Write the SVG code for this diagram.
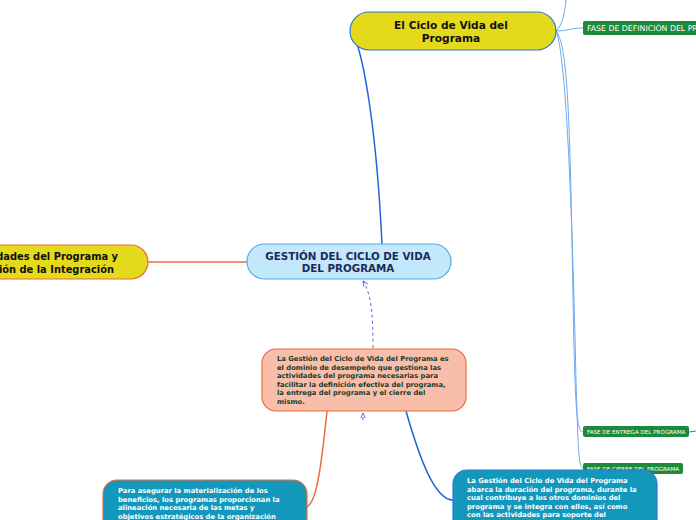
<svg xmlns="http://www.w3.org/2000/svg" width="696" height="520" viewBox="0 0 696 520">
<defs>
<style>
.t{font-family:"DejaVu Sans",Verdana,sans-serif;font-weight:bold}
.yel{fill:#e5d91c}
.teal{fill:#1398bc}
.tag{fill:#1d8a3b}
.tagt{font-family:"DejaVu Sans",Verdana,sans-serif;fill:#ffffff}
.lb{fill:none;stroke:#6fa8ee;stroke-width:1}
.wt{fill:#ffffff;font-size:6.8px}
</style>
<marker id="ah" viewBox="0 0 10 10" refX="9" refY="5" markerWidth="6" markerHeight="6" orient="auto-start-reverse">
<path d="M0,1 L9,5 L0,9" fill="none" stroke="#4a6be8" stroke-width="1.5"/>
</marker>
</defs>
<rect width="696" height="520" fill="#ffffff"/>
<g id="connectors">
<path d="M357,44 C363,62 376,120 382,244" fill="none" stroke="#1f64d6" stroke-width="1.5"/>
<path d="M148,262 L247,262" stroke="#ee6a3e" stroke-width="1.5"/>
<path d="M327,411 C321,470 316,505 306,507" fill="none" stroke="#ee6a3e" stroke-width="1.5"/>
<path d="M406,411 C420,460 435,500 453,500" fill="none" stroke="#1f64d6" stroke-width="1.5"/>
<path d="M373,348 C373,318 372,295 363,281" fill="none" stroke="#4a6be8" stroke-width="1" stroke-dasharray="3,3" marker-end="url(#ah)"/>
<path d="M363,420 L363,413" fill="none" stroke="#4a6be8" stroke-width="1" stroke-dasharray="3,3" marker-end="url(#ah)"/>
<path class="lb" d="M556,31 C563,25 565,10 566,0"/>
<path class="lb" d="M556,31 C568,31 570,28 583,28"/>
<path class="lb" d="M556,31 C568,45 570,120 573,300 C575,400 576,432 583,432"/>
<path class="lb" d="M556,31 C566,55 572,200 576,380 C578,440 578,468 583,468"/>
<path d="M689,432 L696,431" stroke="#2f78d6" stroke-width="1"/>
</g>
<g id="n-ciclo">
<rect x="350" y="12" width="206" height="38" rx="19" class="yel" stroke="#2f78d6" stroke-width="1.2"/>
<text class="t" x="451" y="29" font-size="10.6" text-anchor="middle" fill="#111">El Ciclo de Vida del</text>
<text class="t" x="451" y="42" font-size="10.6" text-anchor="middle" fill="#111">Programa</text>
</g>
<g id="n-def">
<rect x="583" y="21" width="130" height="14" rx="2" class="tag"/>
<text class="tagt" x="587" y="31" font-size="7.8">FASE DE DEFINICIÓN DEL PROGRAMA</text>
</g>
<g id="n-left">
<rect x="-60" y="245" width="208" height="34" rx="17" class="yel" stroke="#ee6a3e" stroke-width="1.2"/>
<text class="t" x="118" y="259.5" font-size="9.9" text-anchor="end" fill="#111">Actividades del Programa y</text>
<text class="t" x="114" y="272.5" font-size="9.9" text-anchor="end" fill="#111">Gestión de la Integración</text>
</g>
<g id="n-central">
<rect x="247" y="244" width="204" height="35" rx="17.5" fill="#c4e8fb" stroke="#5aa7e6" stroke-width="1.2"/>
<text class="t" x="348" y="260" font-size="10.3" text-anchor="middle" fill="#1a2a5a">GESTIÓN DEL CICLO DE VIDA</text>
<text class="t" x="348" y="272" font-size="10.3" text-anchor="middle" fill="#1a2a5a">DEL PROGRAMA</text>
</g>
<g id="n-desc">
<rect x="262" y="349" width="204" height="62" rx="14" fill="#f8bea9" stroke="#ee6a3e" stroke-width="1.2"/>
<g class="t" font-size="6.8" fill="#1b3a2a">
<text x="277" y="361">La Gestión del Ciclo de Vida del Programa es</text>
<text x="277" y="369.6">el dominio de desempeño que gestiona las</text>
<text x="277" y="378.2">actividades del programa necesarias para</text>
<text x="277" y="386.8">facilitar la definición efectiva del programa,</text>
<text x="277" y="395.4">la entrega del programa y el cierre del</text>
<text x="277" y="404">mismo.</text>
</g>
</g>
<g id="n-entrega">
<rect x="583" y="426" width="106" height="11" rx="2" class="tag"/>
<text class="tagt" x="587" y="434" font-size="5.6">FASE DE ENTREGA DEL PROGRAMA</text>
</g>
<g id="n-cierre">
<rect x="583" y="463" width="100" height="11" rx="2" class="tag"/>
<text class="tagt" x="587" y="471" font-size="5.6">FASE DE CIERRE DEL PROGRAMA</text>
</g>
<g id="n-bl">
<rect x="103" y="480" width="204" height="60" rx="14" class="teal" stroke="#ee6a3e" stroke-width="1.2"/>
<g class="t wt">
<text x="118" y="493">Para asegurar la materialización de los</text>
<text x="118" y="501.6">beneficios, los programas proporcionan la</text>
<text x="118" y="510.2">alineación necesaria de las metas y</text>
<text x="118" y="518.8">objetivos estratégicos de la organización</text>
</g>
</g>
<g id="n-br">
<rect x="453" y="470" width="204" height="70" rx="14" class="teal" stroke="#2f78d6" stroke-width="1.2"/>
<g class="t wt">
<text x="467" y="483">La Gestión del Ciclo de Vida del Programa</text>
<text x="467" y="491.6">abarca la duración del programa, durante la</text>
<text x="467" y="500.2">cual contribuye a los otros dominios del</text>
<text x="467" y="508.8">programa y se integra con ellos, así como</text>
<text x="467" y="517.4">con las actividades para soporte del</text>
</g>
</g>
</svg>
